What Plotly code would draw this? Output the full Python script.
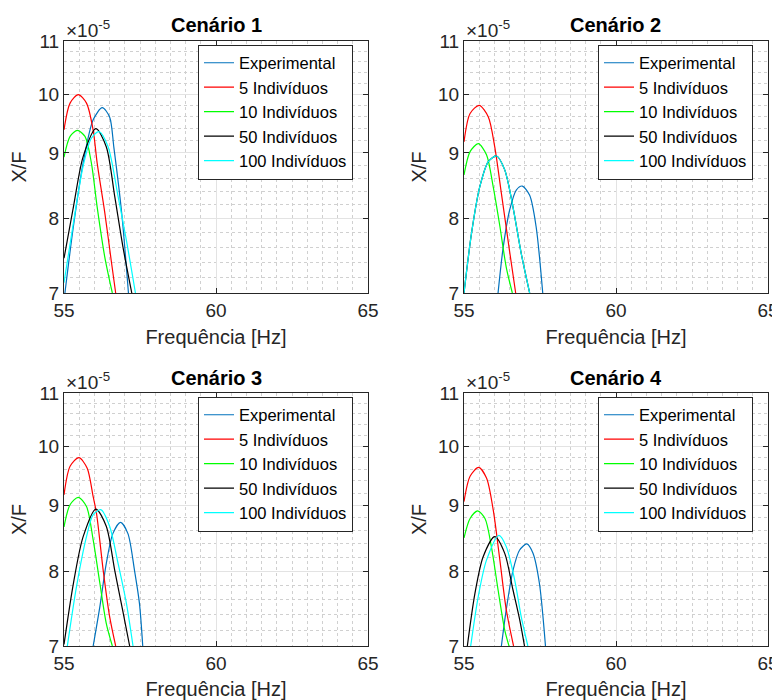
import plotly.graph_objects as go
import math

# ---------------- data (X/F in units of 1e-5) ----------------
SCALE = 1e-5
series_names = ["Experimental", "5 Indivíduos", "10 Indivíduos", "50 Indivíduos", "100 Indivíduos"]
series_colors = ["#0072BD", "#FF0000", "#00FF00", "#000000", "#00FFFF"]
titles = ["Cenário 1", "Cenário 2", "Cenário 3", "Cenário 4"]
x_ticks = [55, 60, 65]
y_ticks = [7, 8, 9, 10, 11]
y_tick_labels = ["7", "8", "9", "10", "11"]

# Cenário 1
exp1_f = [55.03, 55.31, 55.63, 55.96, 56.26, 56.50, 56.64, 56.90, 57.12]
exp1_v = [7.00, 7.89, 8.84, 9.55, 9.76, 9.60, 9.09, 8.07, 7.00]
i5_1_f = [55.0, 55.2, 55.47, 55.74, 55.96, 56.09, 56.34, 56.56, 56.70]
i5_1_v = [9.38, 9.84, 9.99, 9.84, 9.37, 8.84, 8.09, 7.40, 7.00]
i10_1_f = [55.0, 55.2, 55.44, 55.69, 55.90, 56.09, 56.34, 56.59]
i10_1_v = [8.93, 9.27, 9.37, 9.27, 8.84, 8.17, 7.47, 7.00]
i50_1_f = [55.0, 55.31, 55.63, 56.05, 56.39, 56.67, 56.94, 57.23]
i50_1_v = [7.45, 8.17, 8.94, 9.40, 9.10, 8.32, 7.60, 7.00]
i100_1_f = [55.0, 55.31, 55.63, 55.90, 56.15, 56.45, 56.78, 57.05, 57.35]
i100_1_v = [7.13, 7.94, 8.79, 9.24, 9.35, 9.10, 8.32, 7.70, 7.00]

# Cenário 2
exp2_f = [56.12, 56.29, 56.50, 56.72, 56.92, 57.16, 57.37, 57.59]
exp2_v = [7.00, 7.60, 8.12, 8.42, 8.48, 8.34, 7.89, 7.00]
i5_2_f = [55.0, 55.2, 55.50, 55.80, 56.01, 56.23, 56.48, 56.70]
i5_2_v = [9.18, 9.66, 9.80, 9.60, 9.10, 8.37, 7.60, 7.00]
i10_2_f = [55.0, 55.2, 55.47, 55.74, 55.96, 56.18, 56.39, 56.59]
i10_2_v = [8.65, 9.02, 9.15, 8.97, 8.47, 7.89, 7.33, 7.00]
i50_2_f = [55.0, 55.25, 55.52, 55.80, 56.07, 56.34, 56.61, 56.88, 57.16]
i50_2_v = [7.00, 7.80, 8.47, 8.86, 8.95, 8.73, 8.17, 7.52, 7.00]
i100_2_f = [55.0, 55.25, 55.52, 55.80, 56.07, 56.34, 56.61, 56.88, 57.16]
i100_2_v = [7.00, 7.80, 8.47, 8.86, 8.95, 8.73, 8.17, 7.52, 7.00]

# Cenário 3
exp3_f = [55.96, 56.18, 56.39, 56.61, 56.86, 57.10, 57.32, 57.48, 57.59]
exp3_v = [7.00, 7.51, 8.11, 8.56, 8.73, 8.56, 8.01, 7.56, 7.00]
i5_3_f = [55.0, 55.2, 55.49, 55.76, 55.96, 56.07, 56.29, 56.50, 56.70]
i5_3_v = [9.17, 9.65, 9.80, 9.62, 9.14, 8.87, 8.01, 7.38, 7.00]
i10_3_f = [55.0, 55.2, 55.47, 55.74, 55.96, 56.18, 56.39, 56.59]
i10_3_v = [8.66, 9.01, 9.13, 8.98, 8.46, 7.83, 7.29, 7.00]
i50_3_f = [55.0, 55.31, 55.63, 56.05, 56.39, 56.67, 56.94, 57.16]
i50_3_v = [7.02, 7.83, 8.51, 8.94, 8.67, 8.01, 7.44, 7.00]
i100_3_f = [55.11, 55.41, 55.74, 55.96, 56.21, 56.50, 56.78, 57.05, 57.27]
i100_3_v = [7.00, 7.78, 8.51, 8.85, 8.93, 8.67, 8.11, 7.56, 7.00]

# Cenário 4
exp4_f = [56.23, 56.39, 56.61, 56.83, 57.07, 57.27, 57.48, 57.68]
exp4_v = [7.00, 7.47, 8.01, 8.31, 8.40, 8.26, 7.83, 7.00]
i5_4_f = [55.0, 55.2, 55.48, 55.74, 55.96, 56.18, 56.39, 56.63]
i5_4_v = [9.06, 9.48, 9.63, 9.45, 8.93, 8.16, 7.47, 7.00]
i10_4_f = [55.0, 55.2, 55.45, 55.69, 55.90, 56.12, 56.34, 56.48]
i10_4_v = [8.49, 8.79, 8.91, 8.79, 8.36, 7.74, 7.20, 7.00]
i50_4_f = [55.11, 55.36, 55.63, 56.01, 56.34, 56.61, 56.83, 56.99]
i50_4_v = [7.00, 7.69, 8.21, 8.51, 8.26, 7.74, 7.34, 7.00]
i100_4_f = [55.22, 55.47, 55.74, 56.15, 56.39, 56.67, 56.88, 57.10]
i100_4_v = [7.00, 7.65, 8.16, 8.53, 8.36, 7.87, 7.38, 7.00]

panels = [
    [(exp1_f, exp1_v), (i5_1_f, i5_1_v), (i10_1_f, i10_1_v), (i50_1_f, i50_1_v), (i100_1_f, i100_1_v)],
    [(exp2_f, exp2_v), (i5_2_f, i5_2_v), (i10_2_f, i10_2_v), (i50_2_f, i50_2_v), (i100_2_f, i100_2_v)],
    [(exp3_f, exp3_v), (i5_3_f, i5_3_v), (i10_3_f, i10_3_v), (i50_3_f, i50_3_v), (i100_3_f, i100_3_v)],
    [(exp4_f, exp4_v), (i5_4_f, i5_4_v), (i10_4_f, i10_4_v), (i50_4_f, i50_4_v), (i100_4_f, i100_4_v)],
]

# ---------------- layout geometry ----------------
# page body has an 8px margin, so the figure is 772x692 and offset by 8px
OFF = 8
W, H = 780 - OFF, 700 - OFF
FONT = "Liberation Sans, Arial, Helvetica, sans-serif"
AX = "#262626"


def px(X):
    return (X - OFF) / W


def py(Y):
    return 1 - (Y - OFF) / H


x_doms = [(px(64), px(368)), (px(464), px(768)), (px(64), px(368)), (px(464), px(768))]
y_doms = [(py(293), py(41)), (py(293), py(41)), (py(646), py(393)), (py(646), py(393))]
legend_pos = [(px(353), py(112)), (px(753), py(112)), (px(353), py(464)), (px(753), py(464))]
title_y = [py(25), py(25), py(378), py(378)]
expo_y = [py(43), py(43), py(395), py(395)]

fig = go.Figure()
legend_keys = ["legend", "legend2", "legend3", "legend4"]

for p, data in enumerate(panels):
    xa = "x" if p == 0 else f"x{p+1}"
    ya = "y" if p == 0 else f"y{p+1}"
    for s, (f, v) in enumerate(data):
        fig.add_trace(go.Scatter(
            x=f, y=[val * SCALE for val in v], mode="lines",
            line=dict(color=series_colors[s], width=1.2, shape="spline", smoothing=0.8),
            name=series_names[s], xaxis=xa, yaxis=ya, legend=legend_keys[p],
            showlegend=True, cliponaxis=True,
        ))

minor_y = [v * SCALE for v in [7.2, 7.4, 7.6, 7.8, 8.2, 8.4, 8.6, 8.8, 9.2, 9.4, 9.6, 9.8,
                               10.2, 10.4, 10.6, 10.8]]
layout = dict(width=W, height=H, autosize=False, margin=dict(l=0, r=0, t=0, b=0),
              paper_bgcolor="white", plot_bgcolor="white",
              font=dict(family=FONT, color=AX), annotations=[])

for p in range(4):
    xk = "xaxis" if p == 0 else f"xaxis{p+1}"
    yk = "yaxis" if p == 0 else f"yaxis{p+1}"
    ya = "y" if p == 0 else f"y{p+1}"
    xa = "x" if p == 0 else f"x{p+1}"
    layout[xk] = dict(
        domain=list(x_doms[p]), anchor=ya, range=[55, 65], tickmode="array", tickvals=x_ticks,
        ticks="inside", ticklen=5, tickcolor=AX, showline=True, linecolor=AX, linewidth=1,
        mirror="ticks", showgrid=True, gridcolor="#e3e3e3", gridwidth=1,
        tickfont=dict(size=19, color=AX, family=FONT), automargin=False,
        title=dict(text="Frequência [Hz]", font=dict(size=20, color=AX, family=FONT), standoff=10),
        minor=dict(dtick=0.5, tick0=55, showgrid=True, gridcolor="#d0d0d0", griddash="dot",
                   gridwidth=1, ticks=""),
        zeroline=False, fixedrange=True,
    )
    layout[yk] = dict(
        domain=list(y_doms[p]), anchor=xa, type="log",
        range=[math.log10(7 * SCALE), math.log10(11 * SCALE)],
        tickmode="array", tickvals=[t * SCALE for t in y_ticks], ticktext=y_tick_labels,
        ticks="inside", ticklen=5, tickcolor=AX, showline=True, linecolor=AX, linewidth=1,
        mirror="ticks", showgrid=True, gridcolor="#e3e3e3", gridwidth=1,
        tickfont=dict(size=19, color=AX, family=FONT), automargin=False,
        title=dict(text="X/F", font=dict(size=20, color=AX, family=FONT), standoff=6),
        minor=dict(tickmode="array", tickvals=minor_y, showgrid=True, gridcolor="#d0d0d0",
                   griddash="dot", gridwidth=1, ticks=""),
        zeroline=False, fixedrange=True,
    )
    lk = legend_keys[p]
    layout[lk] = dict(
        x=legend_pos[p][0], y=legend_pos[p][1], xanchor="right", yanchor="middle",
        xref="paper", yref="paper",
        bgcolor="white", bordercolor=AX, borderwidth=1,
        font=dict(size=16.5, color="#000000", family=FONT), itemwidth=30, tracegroupgap=0,
    )
    xc = (x_doms[p][0] + x_doms[p][1]) / 2
    layout["annotations"].append(dict(
        text=f"<b>{titles[p]}</b>", x=xc, y=title_y[p], xref="paper", yref="paper",
        xanchor="center", yanchor="middle", showarrow=False,
        font=dict(size=20, color="#000000", family=FONT)))
    layout["annotations"].append(dict(
        text="×10<sup>-5</sup>", x=x_doms[p][0], y=expo_y[p], xref="paper", yref="paper",
        xanchor="left", yanchor="bottom", showarrow=False,
        font=dict(size=19, color=AX, family=FONT)))

fig.update_layout(**layout)
fig.write_html("out.html")
